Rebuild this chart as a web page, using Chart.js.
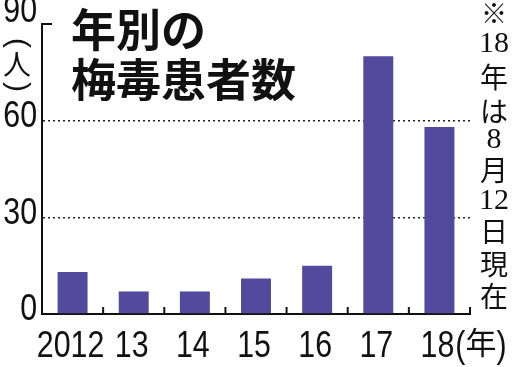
<!DOCTYPE html>
<html>
<head>
<meta charset="utf-8">
<script src="https://cdn.jsdelivr.net/npm/chart.js@4/dist/chart.umd.min.js"></script>
<style>
  html, body { margin: 0; padding: 0; background: #fff; }
  #wrap { width: 516px; height: 367px; }
</style>
</head>
<body>
<div id="wrap"><canvas id="syphilis"></canvas></div>
<script>
// data
let years = ['2012', '13', '14', '15', '16', '17', '18']
let patients = [13, 7, 7, 11, 15, 80, 58]
let yTicks = [0, 30, 60, 90]
let titleLines = ['年別の', '梅毒患者数']
let unitLabel = '人'
let yearUnit = '年'
let noteParts = ['※', '18', '年', 'は', '8', '月', '12', '日', '現', '在']

const numFont = '37px "Liberation Sans", Arial, sans-serif'
const jpFont = '"Noto Sans CJK JP", sans-serif'
const squeeze = 0.82   // the digits in the picture are condensed

// text squeezed horizontally
function narrowText(ctx, str, px, py, align) {
    ctx.save()
    ctx.translate(px, py)
    ctx.scale(squeeze, 1)
    ctx.textAlign = align
    ctx.fillText(str, 0, 0)
    ctx.restore()
}

// draws what the library doesn't: title, axis labels, unit, note, upward ticks
const extras = {
    id: 'extras',
    afterDraw(chart) {
        const ctx = chart.ctx
        const x = chart.scales.x
        const y = chart.scales.y
        const area = chart.chartArea
        ctx.save()
        ctx.fillStyle = '#111'
        ctx.strokeStyle = '#111'

        // title
        ctx.font = 'bold 45px ' + jpFont
        ctx.textAlign = 'left'
        ctx.textBaseline = 'middle'
        ctx.fillText(titleLines[0], 71, 30)
        ctx.fillText(titleLines[1], 71, 80)

        // y tick labels
        ctx.font = numFont
        yTicks.forEach(function(v) {
            let py = y.getPixelForValue(v) - 4
            if (v === yTicks[yTicks.length - 1]) py -= 8
            narrowText(ctx, String(v), 37, py, 'right')
        })

        // short tick at top of y axis
        ctx.lineWidth = 2
        ctx.beginPath()
        ctx.moveTo(area.left, y.getPixelForValue(90))
        ctx.lineTo(area.left + 10, y.getPixelForValue(90))
        ctx.stroke()

        // (人) written vertically
        ctx.font = '28px ' + jpFont
        ctx.textAlign = 'center'
        ctx.fillText(unitLabel, 17, 64)
        ctx.font = '30px "Liberation Sans", sans-serif'
        ctx.save(); ctx.translate(17, 43); ctx.rotate(Math.PI / 2); ctx.fillText('(', 0, 0); ctx.restore()
        ctx.save(); ctx.translate(17, 87); ctx.rotate(Math.PI / 2); ctx.fillText(')', 0, 0); ctx.restore()

        // ticks between categories, pointing up
        ctx.lineWidth = 2
        for (let i = 0; i < years.length; i++) {
            let px = i < years.length - 1
                ? (x.getPixelForValue(i) + x.getPixelForValue(i + 1)) / 2
                : area.right
            ctx.beginPath()
            ctx.moveTo(px, area.bottom)
            ctx.lineTo(px, area.bottom - 7)
            ctx.stroke()
        }

        // x labels
        ctx.textBaseline = 'alphabetic'
        ctx.font = numFont
        years.forEach(function(lab, i) {
            narrowText(ctx, lab, x.getPixelForValue(i) - 2, 357, 'center')
        })

        // (年) after the last year label
        let last = x.getPixelForValue(years.length - 1) - 2
        let px = last + ctx.measureText(years[years.length - 1]).width * squeeze / 2 + 1
        narrowText(ctx, '(', px, 357, 'left')
        px += ctx.measureText('(').width * squeeze
        ctx.font = '31px ' + jpFont
        ctx.textAlign = 'left'
        ctx.fillText(yearUnit, px, 354)
        px += ctx.measureText(yearUnit).width
        ctx.font = numFont
        narrowText(ctx, ')', px, 357, 'left')

        // vertical note on the right
        let noteY = [13, 44, 77, 111, 140, 170, 201, 231, 264, 296]
        ctx.textAlign = 'center'
        ctx.textBaseline = 'middle'
        noteParts.forEach(function(p, i) {
            if (p === '※') ctx.font = '26px ' + jpFont
            else if (/[0-9]/.test(p)) ctx.font = '30px "Liberation Serif", serif'
            else ctx.font = '28px ' + jpFont
            ctx.fillText(p, 494, noteY[i])
        })
        ctx.restore()
    }
}

var ctx = document.getElementById('syphilis').getContext('2d')
var chart = new Chart(ctx, {
    type: 'bar',
    data: {
        labels: years,
        datasets: [{
            data: patients,
            backgroundColor: '#534a9e',
            borderWidth: 0,
            barPercentage: 0.49,
            categoryPercentage: 1
        }]
    },
    options: {
        responsive: true,
        maintainAspectRatio: false,
        animation: false,
        layout: { padding: { top: 24, right: 46, left: 0, bottom: 0 } },
        plugins: { legend: { display: false }, tooltip: { enabled: false } },
        scales: {
            x: {
                grid: { display: false },
                border: { display: true, color: '#111', width: 2 },
                ticks: { display: false },
                afterFit(scale) { scale.height = 53 }
            },
            y: {
                min: 0,
                max: 90,
                ticks: { display: false, stepSize: 30 },
                grid: {
                    drawTicks: false,
                    lineWidth: 1.5,
                    color: function(c) {
                        let v = c.tick && c.tick.value
                        return (v === 30 || v === 60) ? '#222' : 'rgba(0,0,0,0)'
                    }
                },
                border: { display: true, color: '#111', width: 2, dash: [2, 3] },
                afterFit(scale) { scale.width = 42 }
            }
        }
    },
    plugins: [extras]
})
</script>
</body>
</html>
